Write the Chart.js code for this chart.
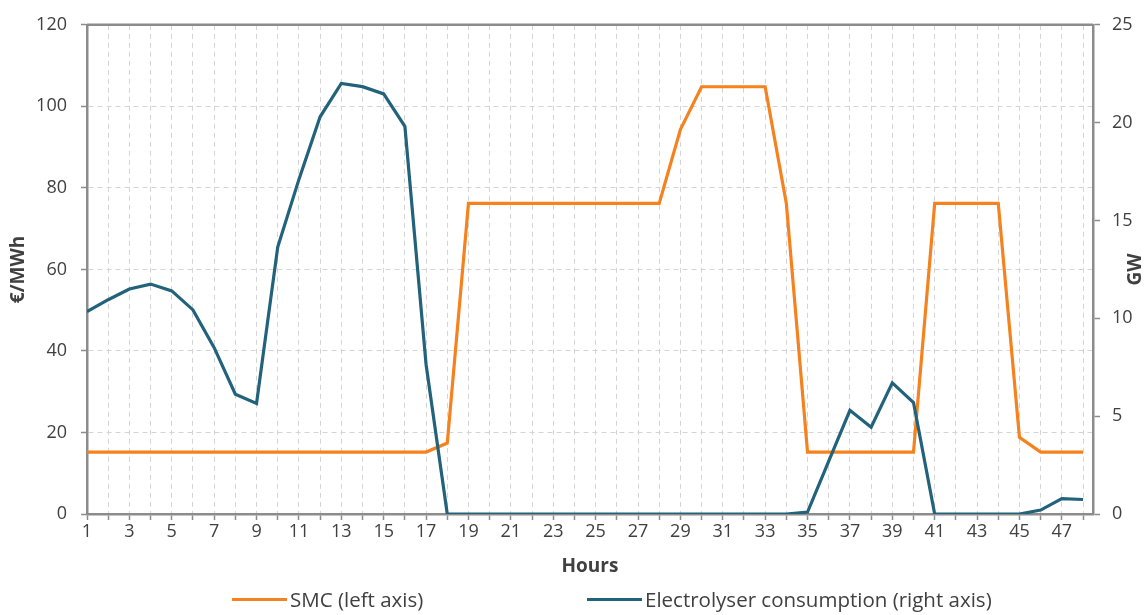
<!DOCTYPE html>
<html lang="en">
<head>
    <meta charset="UTF-8">
    <title>SMC and electrolyser consumption</title>
    <script src="https://cdn.jsdelivr.net/npm/chart.js"></script>
    <style>
        * { margin: 0; padding: 0; box-sizing: border-box; }
        body { background: #fff; font-family: 'Open Sans', sans-serif; }
        .wrap { position: relative; width: 1148px; height: 615px; }
        .legend-item {
            position: absolute;
            top: 585px;
            display: flex;
            align-items: center;
            font-size: 20.5px;
            line-height: 28px;
            color: #404040;
            white-space: nowrap;
        }
        .legend-item span.swatch {
            display: inline-block;
            width: 55px;
            height: 3px;
            margin-right: 3px;
        }
    </style>
</head>
<body>
    <div class="wrap">
        <canvas id="chart" width="1148" height="615"></canvas>
        <div class="legend-item" style="left: 232px;"><span class="swatch" style="background:#f6821f"></span>SMC (left axis)</div>
        <div class="legend-item" style="left: 587px;"><span class="swatch" style="background:#22637b"></span>Electrolyser consumption (right axis)</div>
    </div>

    <script>
        // Data
        const hours = [1, 2, 3, 4, 5, 6, 7, 8, 9, 10, 11, 12, 13, 14, 15, 16, 17, 18, 19, 20, 21, 22, 23, 24,
                       25, 26, 27, 28, 29, 30, 31, 32, 33, 34, 35, 36, 37, 38, 39, 40, 41, 42, 43, 44, 45, 46, 47, 48];

        // SMC, €/MWh (left axis)
        const smc = [15.2, 15.2, 15.2, 15.2, 15.2, 15.2, 15.2, 15.2, 15.2, 15.2, 15.2, 15.2, 15.2, 15.2, 15.2, 15.2, 15.2, 17.4,
                     76.2, 76.2, 76.2, 76.2, 76.2, 76.2, 76.2, 76.2, 76.2, 76.2, 94.3, 104.8, 104.8, 104.8, 104.8, 76.2,
                     15.2, 15.2, 15.2, 15.2, 15.2, 15.2, 76.2, 76.2, 76.2, 76.2, 18.8, 15.2, 15.2, 15.2];

        // Electrolyser consumption, GW (right axis)
        const electrolyser = [10.34, 10.95, 11.5, 11.75, 11.4, 10.43, 8.5, 6.12, 5.65, 13.64, 17.1, 20.3, 22.0, 21.84, 21.47, 19.81, 7.64, 0,
                              0, 0, 0, 0, 0, 0, 0, 0, 0, 0, 0, 0, 0, 0, 0, 0,
                              0.1, 2.7, 5.3, 4.43, 6.7, 5.7, 0, 0, 0, 0, 0, 0.2, 0.79, 0.74];

        const leftTicks = [0, 20, 40, 60, 80, 100, 120];
        const rightTicks = [0, 5, 10, 15, 20, 25];

        const axisGrey = '#8c8c8c';
        const gridGrey = '#d4d4d4';
        const textGrey = '#404040';
        const fontFamily = "'Open Sans', sans-serif";

        // top border of the plot area + rotated axis titles
        const framePlugin = {
            id: 'frame',
            afterDraw(chart) {
                const { ctx, chartArea: a } = chart;
                ctx.save();
                ctx.strokeStyle = axisGrey;
                ctx.lineWidth = 2.5;
                ctx.beginPath();
                ctx.moveTo(a.left, a.top);
                ctx.lineTo(a.right, a.top);
                ctx.stroke();

                ctx.fillStyle = textGrey;
                ctx.font = 'bold 19px ' + fontFamily;
                ctx.textAlign = 'center';
                ctx.textBaseline = 'middle';
                const midY = (a.top + a.bottom) / 2;
                [['€/MWh', 19], ['GW', 1136]].forEach(([txt, x]) => {
                    ctx.save();
                    ctx.translate(x, midY);
                    ctx.rotate(-Math.PI / 2);
                    ctx.fillText(txt, 0, 0);
                    ctx.restore();
                });
                ctx.restore();
            }
        };

        Chart.defaults.font.family = fontFamily;
        Chart.defaults.font.size = 18;
        Chart.defaults.color = textGrey;

        new Chart(document.getElementById('chart'), {
            type: 'line',
            data: {
                datasets: [
                    {
                        label: 'SMC (left axis)',
                        data: hours.map((h, i) => ({ x: h, y: smc[i] })),
                        borderColor: '#f6821f',
                        borderWidth: 3.2,
                        pointRadius: 0,
                        tension: 0,
                        yAxisID: 'y',
                        order: 1
                    },
                    {
                        label: 'Electrolyser consumption (right axis)',
                        data: hours.map((h, i) => ({ x: h, y: electrolyser[i] })),
                        borderColor: '#22637b',
                        borderWidth: 3.2,
                        pointRadius: 0,
                        tension: 0,
                        yAxisID: 'y1',
                        order: 0
                    }
                ]
            },
            options: {
                responsive: false,
                animation: false,
                layout: { padding: { top: 21, bottom: 33, left: 0, right: 0 } },
                plugins: {
                    legend: { display: false },
                    tooltip: { enabled: false }
                },
                scales: {
                    x: {
                        type: 'linear',
                        min: hours[0],
                        max: hours[hours.length - 1] + 0.47,
                        afterFit: s => { s.height = 68; },
                        ticks: {
                            stepSize: 1,
                            autoSkip: false,
                            maxRotation: 0,
                            includeBounds: false,
                            maxTicksLimit: 100,
                            padding: 1,
                            callback: v => (v % 2 === 1 ? v : '')
                        },
                        grid: {
                            color: gridGrey,
                            lineWidth: 1,
                            tickLength: 6,
                            tickColor: axisGrey,
                            tickWidth: 1.5,
                            tickBorderDash: [0, 0]
                        },
                        border: { color: axisGrey, width: 2.5, dash: [5, 4] },
                        title: {
                            display: true,
                            text: 'Hours',
                            font: { weight: 'bold', size: 19 },
                            padding: { top: 4, bottom: 4 }
                        }
                    },
                    y: {
                        position: 'left',
                        min: leftTicks[0],
                        max: leftTicks[leftTicks.length - 1],
                        afterFit: s => { s.width = 87; },
                        afterBuildTicks: s => { s.ticks = leftTicks.map(v => ({ value: v })); },
                        ticks: { padding: 14 },
                        grid: {
                            color: gridGrey,
                            lineWidth: 1,
                            tickLength: 6,
                            tickColor: axisGrey,
                            tickWidth: 1.5,
                            tickBorderDash: [0, 0]
                        },
                        border: { color: axisGrey, width: 2.5, dash: [5, 4] }
                    },
                    y1: {
                        position: 'right',
                        min: rightTicks[0],
                        max: rightTicks[rightTicks.length - 1],
                        afterFit: s => { s.width = 55; },
                        afterBuildTicks: s => { s.ticks = rightTicks.map(v => ({ value: v })); },
                        ticks: { padding: 12 },
                        grid: {
                            drawOnChartArea: false,
                            tickLength: 7,
                            tickColor: axisGrey,
                            tickWidth: 1.5
                        },
                        border: { color: axisGrey, width: 2.5 }
                    }
                }
            },
            plugins: [framePlugin]
        });
    </script>
</body>
</html>
